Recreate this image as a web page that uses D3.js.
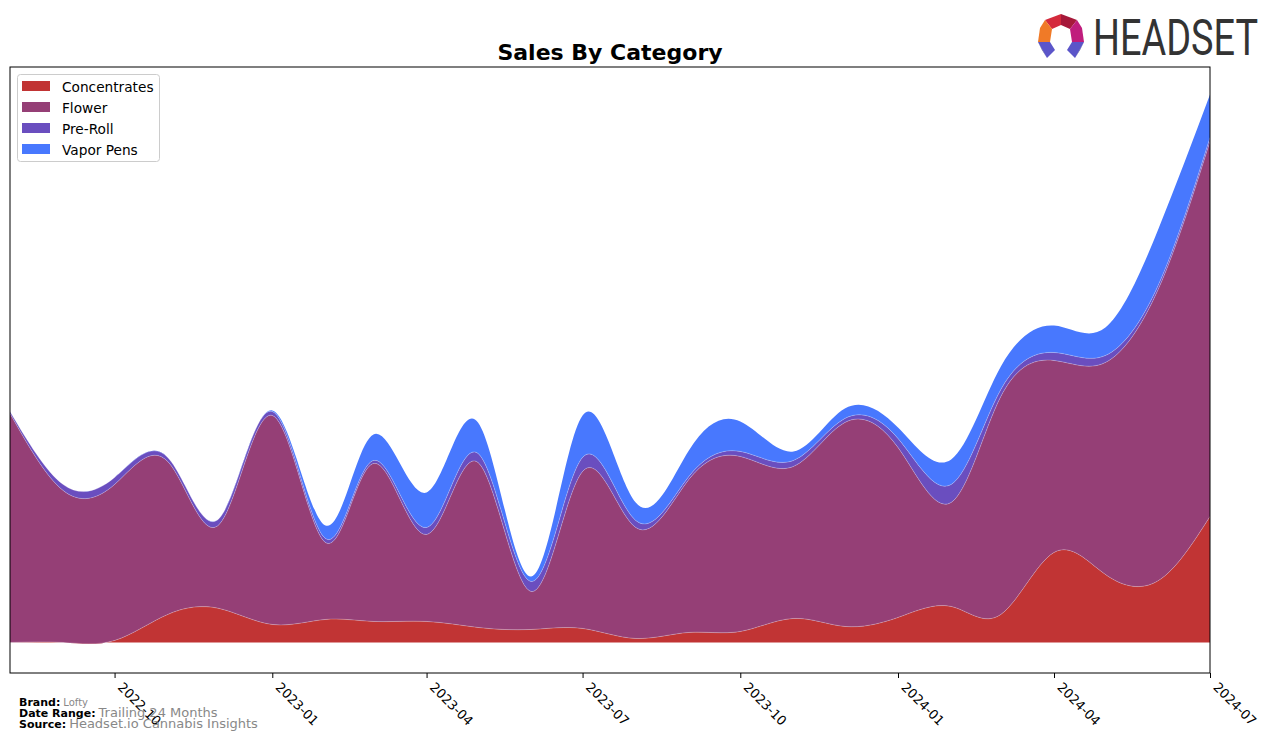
<!DOCTYPE html>
<html>
<head>
<meta charset="utf-8">
<script src="https://cdn.jsdelivr.net/npm/d3@7"></script>
<style>
  html, body { margin: 0; padding: 0; background: #fff; }
  svg { display: block; font-family: "DejaVu Sans", sans-serif; }
</style>
</head>
<body>
<svg id="chart" width="1276" height="743"></svg>
<script>
// ---- data (monthly) ----
const months = ["2022-08","2022-09","2022-10","2022-11","2022-12","2023-01","2023-02","2023-03",
  "2023-04","2023-05","2023-06","2023-07","2023-08","2023-09","2023-10","2023-11","2023-12",
  "2024-01","2024-02","2024-03","2024-04","2024-05","2024-06","2024-07"];
const concentrates = [0,0,2,28,34,18,23,21,21,15,13,14,4,10,11,24,16,25,36,28,90,68,62,126];
const flower       = [229,152,156,153,84,209,77,158,87,165,38,157,111,153,175,152,204,170,104,218,192,212,292,375];
const preRoll      = [2,6,7,4,6,4,4,3,7,9,10,14,7,3,5,6,4,9,18,7,8,7,4,4];
const vaporPens    = [0,0,0,0,0,1,13,26,35,31,5,42,18,26,30,9,10,11,25,23,27,28,56,43];
const categories = ["Concentrates","Flower","Pre-Roll","Vapor Pens"];
const colors = ["#c13434","#953f76","#6a4ebf","#4878fe"];
const tickLabels = ["2022-10","2023-01","2023-04","2023-07","2023-10","2024-01","2024-04","2024-07"];

const parse = d3.timeParse("%Y-%m");
const rows = months.map((m, i) => ({
  date: parse(m),
  "Concentrates": concentrates[i],
  "Flower": flower[i],
  "Pre-Roll": preRoll[i],
  "Vapor Pens": vaporPens[i]
}));

const svg = d3.select("#chart");
const L = 10, R = 1210, T = 67, B = 673;

const x = d3.scaleTime().domain([parse("2022-08"), parse("2024-07")]).range([L, R]);
const stack = d3.stack().keys(categories);
const series = stack(rows);
const hi = d3.max(series[series.length - 1], d => d[1]);
const lo = -3;
const pad = (hi - lo) * 0.05;
const y = d3.scaleLinear().domain([lo - pad, hi + pad]).range([B, T]);

svg.append("defs").append("clipPath").attr("id", "clip")
  .append("rect").attr("x", L).attr("y", T).attr("width", R - L).attr("height", B - T);

const area = d3.area()
  .x(d => x(d.data.date))
  .y0(d => y(d[0]))
  .y1(d => y(d[1]))
  .curve(d3.curveNatural);
const topLine = d3.line()
  .x(d => x(d.data.date))
  .y(d => y(d[1]))
  .curve(d3.curveNatural);

const g = svg.append("g").attr("clip-path", "url(#clip)");
g.selectAll("path.layer").data(series).join("path")
  .attr("class", "layer")
  .attr("d", area)
  .attr("fill", (d, i) => colors[i]);
g.selectAll("path.edge").data(series.slice(0, 3)).join("path")
  .attr("class", "edge")
  .attr("d", topLine)
  .attr("fill", "none")
  .attr("stroke", "#ffffff")
  .attr("stroke-opacity", 0.3)
  .attr("stroke-width", 0.8);

// frame
svg.append("rect").attr("x", L).attr("y", T).attr("width", R - L).attr("height", B - T)
  .attr("fill", "none").attr("stroke", "#000").attr("stroke-width", 1);

// x axis
const ax = svg.append("g").attr("transform", `translate(0,${B})`)
  .call(d3.axisBottom(x)
    .tickValues(tickLabels.map(parse))
    .tickFormat(d3.timeFormat("%Y-%m"))
    .tickSize(5).tickSizeOuter(0));
ax.select(".domain").remove();
ax.selectAll(".tick line").attr("stroke", "#000");
ax.selectAll(".tick text")
  .attr("fill", "#000")
  .attr("font-size", 13)
  .attr("font-family", "DejaVu Sans, sans-serif")
  .attr("text-anchor", "start")
  .attr("y", 0).attr("dy", null)
  .attr("transform", "translate(2,15) rotate(45)");

// title
svg.append("text").attr("x", (L + R) / 2).attr("y", 60)
  .attr("text-anchor", "middle").attr("font-weight", "bold").attr("font-size", 22)
  .text("Sales By Category");

// legend
const lg = svg.append("g");
lg.append("rect").attr("x", 17.5).attr("y", 74.5).attr("width", 142).attr("height", 87)
  .attr("rx", 3).attr("fill", "#fff").attr("fill-opacity", 0.8)
  .attr("stroke", "#cccccc");
categories.forEach((c, i) => {
  lg.append("rect").attr("x", 22).attr("y", 81 + i * 21).attr("width", 28).attr("height", 10)
    .attr("fill", colors[i]);
  lg.append("text").attr("x", 62).attr("y", 92 + i * 21).attr("font-size", 13.7)
    .attr("fill", "#000").text(c);
});

// footer
const foot = [
  {label: "Brand:", value: "Lofty", vs: 10, y: 706},
  {label: "Date Range:", value: "Trailing 24 Months", vs: 13, y: 717},
  {label: "Source:", value: "Headset.io Cannabis Insights", vs: 13, y: 728}
];
foot.forEach(f => {
  const t = svg.append("text").attr("x", 19).attr("y", f.y);
  t.append("tspan").attr("font-weight", "bold").attr("font-size", 11).attr("fill", "#000").text(f.label);
  t.append("tspan").attr("font-size", f.vs).attr("fill", "#888").attr("dx", 3).text(f.value);
});

// logo
const logo = svg.append("g");
const polys = [
  {p: [[1045,20],[1061,14],[1061,25],[1052,29]], c: "#d42a3c"},
  {p: [[1061,14],[1077,20],[1070,29],[1061,25]], c: "#a6193a"},
  {p: [[1045,20],[1052,29],[1050,42],[1038,42],[1040,28]], c: "#f07a27"},
  {p: [[1077,20],[1082,28],[1084,42],[1072,42],[1070,29]], c: "#c01d7d"},
  {p: [[1038,42],[1050,42],[1055,50],[1047,58]], c: "#5b55c9"},
  {p: [[1072,42],[1084,42],[1075,58],[1067,50]], c: "#5b55c9"},
  {p: [[1038,42],[1047,58],[1042,50]], c: "#2e2f85"},
  {p: [[1084,42],[1080,50],[1075,58]], c: "#2e2f85"}
];
polys.forEach(o => logo.append("polygon").attr("points", o.p.map(q => q.join(",")).join(" ")).attr("fill", o.c));
logo.append("text").attr("x", 1093).attr("y", 55).attr("font-size", 50)
  .attr("font-family", "Liberation Sans Narrow, Roboto, sans-serif")
  .attr("fill", "#333").attr("textLength", 165).attr("lengthAdjust", "spacingAndGlyphs")
  .text("HEADSET");
</script>
</body>
</html>
